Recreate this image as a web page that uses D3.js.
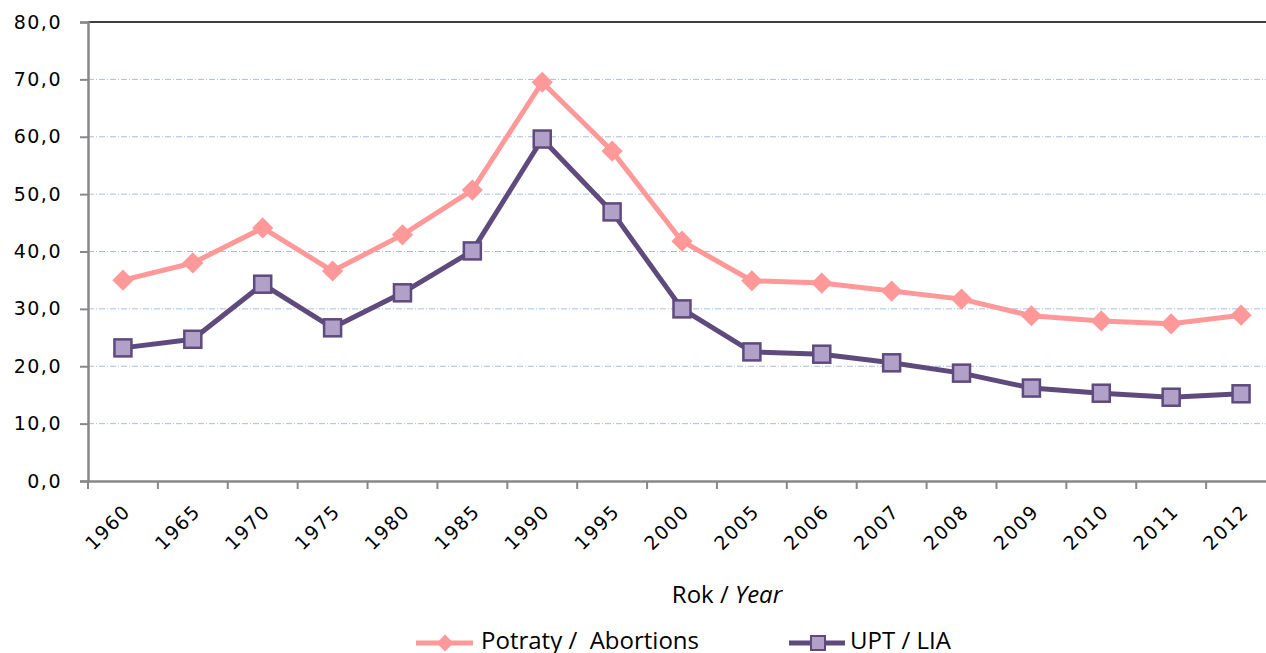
<!DOCTYPE html>
<html><head><meta charset="utf-8">
<script src="https://cdn.jsdelivr.net/npm/d3@7"></script>
<style>body{margin:0;background:#fff;overflow:hidden}</style>
</head><body>
<svg id="c" width="1266" height="653"></svg>
<script>
const years = ["1960","1965","1970","1975","1980","1985","1990","1995","2000","2005","2006","2007","2008","2009","2010","2011","2012"];
const abortions = [35.0,38.0,44.1,36.6,42.9,50.7,69.5,57.5,41.8,34.9,34.5,33.1,31.7,28.8,27.9,27.4,28.9];
const lia = [23.2,24.7,34.3,26.7,32.8,40.1,59.6,46.9,30.0,22.5,22.1,20.6,18.8,16.2,15.3,14.6,15.2];
const yTicks = [0,10,20,30,40,50,60,70,80];
const seriesNames = ["Potraty / \u00a0Abortions","UPT / LIA"];

const svg = d3.select("#c");
const L = 88, R = 1276, T = 22, B = 481;
const x = d3.scaleBand().domain(years).range([L, R]);
const y = d3.scaleLinear().domain([0,80]).range([B, T]);
const fmt = v => d3.format(".1f")(v).replace(".", ",");
const tickFont = "'DejaVu Sans', sans-serif";
const textFont = "'Open Sans', sans-serif";

// gridlines
svg.append("g").selectAll("line").data(yTicks.filter(d=>d>0&&d<80)).join("line")
  .attr("x1", L).attr("x2", R).attr("y1", d=>y(d)).attr("y2", d=>y(d))
  .attr("stroke", "#a9bfdc").attr("stroke-width", 1).attr("stroke-dasharray", "6,2,1,2");
// top border
svg.append("line").attr("x1", L).attr("x2", R).attr("y1", y(80)).attr("y2", y(80))
  .attr("stroke", "#000").attr("stroke-width", 1.5);

// y axis
const ya = svg.append("g").attr("transform", `translate(${L},0)`)
  .call(d3.axisLeft(y).tickValues(yTicks).tickFormat(fmt).tickSize(8).tickPadding(18));
ya.select(".domain").attr("stroke", "#888").attr("stroke-width", 2.5);
ya.selectAll(".tick line").attr("stroke", "#888").attr("stroke-width", 2);
ya.selectAll("text").attr("font-family", tickFont).attr("font-size", 19).attr("letter-spacing", 1.5).attr("fill", "#000");

// x axis
const xa = svg.append("g").attr("transform", `translate(0,${B})`)
  .call(d3.axisBottom(x).tickSize(0).tickFormat(d=>d));
xa.select(".domain").attr("stroke", "#888").attr("stroke-width", 2.5);
xa.selectAll(".tick text").attr("font-family", tickFont).attr("font-size", 19).attr("letter-spacing", 1.5).attr("fill", "#000")
  .attr("text-anchor", "end").attr("transform", "translate(4,27) rotate(-45)").attr("dy", "0.35em").attr("y", 0);
// x tick marks at band boundaries
svg.append("g").selectAll("line").data(years).join("line")
  .attr("x1", d=>x(d)).attr("x2", d=>x(d)).attr("y1", B).attr("y2", B+8)
  .attr("stroke", "#888").attr("stroke-width", 2);

const cx = d => x(d) + x.bandwidth()/2;
const line = d3.line().x((d,i)=>cx(years[i])).y(d=>y(d));

// abortions
svg.append("path").datum(abortions).attr("d", line).attr("fill","none")
  .attr("stroke","#ff9999").attr("stroke-width",5).attr("stroke-linejoin","round");
svg.append("g").selectAll("rect").data(abortions).join("rect")
  .attr("x",-7.5).attr("y",-7.5).attr("width",15).attr("height",15)
  .attr("transform",(d,i)=>`translate(${cx(years[i])},${y(d)}) rotate(45)`)
  .attr("fill","#ff9999");

// LIA
svg.append("path").datum(lia).attr("d", line).attr("fill","none")
  .attr("stroke","#5e4a7c").attr("stroke-width",5).attr("stroke-linejoin","round");
svg.append("g").selectAll("rect").data(lia).join("rect")
  .attr("x",(d,i)=>cx(years[i])-8.5).attr("y",d=>y(d)-8.5).attr("width",17).attr("height",17)
  .attr("fill","#b1a0c7").attr("stroke","#5e4a7c").attr("stroke-width",2.5);

// axis title
const t = svg.append("text").attr("x", 727).attr("y", 603).attr("text-anchor","middle")
  .attr("font-family", textFont).attr("font-size", 24).attr("fill","#000");
t.append("tspan").text("Rok / ");
t.append("tspan").attr("font-style","italic").text("Year");

// legend
const lg = svg.append("g");
lg.append("line").attr("x1",416).attr("x2",473).attr("y1",643).attr("y2",643).attr("stroke","#ff9999").attr("stroke-width",5);
lg.append("rect").attr("x",-6).attr("y",-6).attr("width",12).attr("height",12).attr("fill","#ff9999")
  .attr("transform","translate(445,643) rotate(45)");
lg.append("text").attr("x",481).attr("y",649).attr("font-family",textFont).attr("font-size",24).text(seriesNames[0]);
lg.append("line").attr("x1",789).attr("x2",845).attr("y1",643).attr("y2",643).attr("stroke","#5e4a7c").attr("stroke-width",5);
lg.append("rect").attr("x",811).attr("y",636).attr("width",14).attr("height",14).attr("fill","#b1a0c7").attr("stroke","#5e4a7c").attr("stroke-width",2);
lg.append("text").attr("x",850).attr("y",649).attr("font-family",textFont).attr("font-size",24).text(seriesNames[1]);
</script>
</body></html>
